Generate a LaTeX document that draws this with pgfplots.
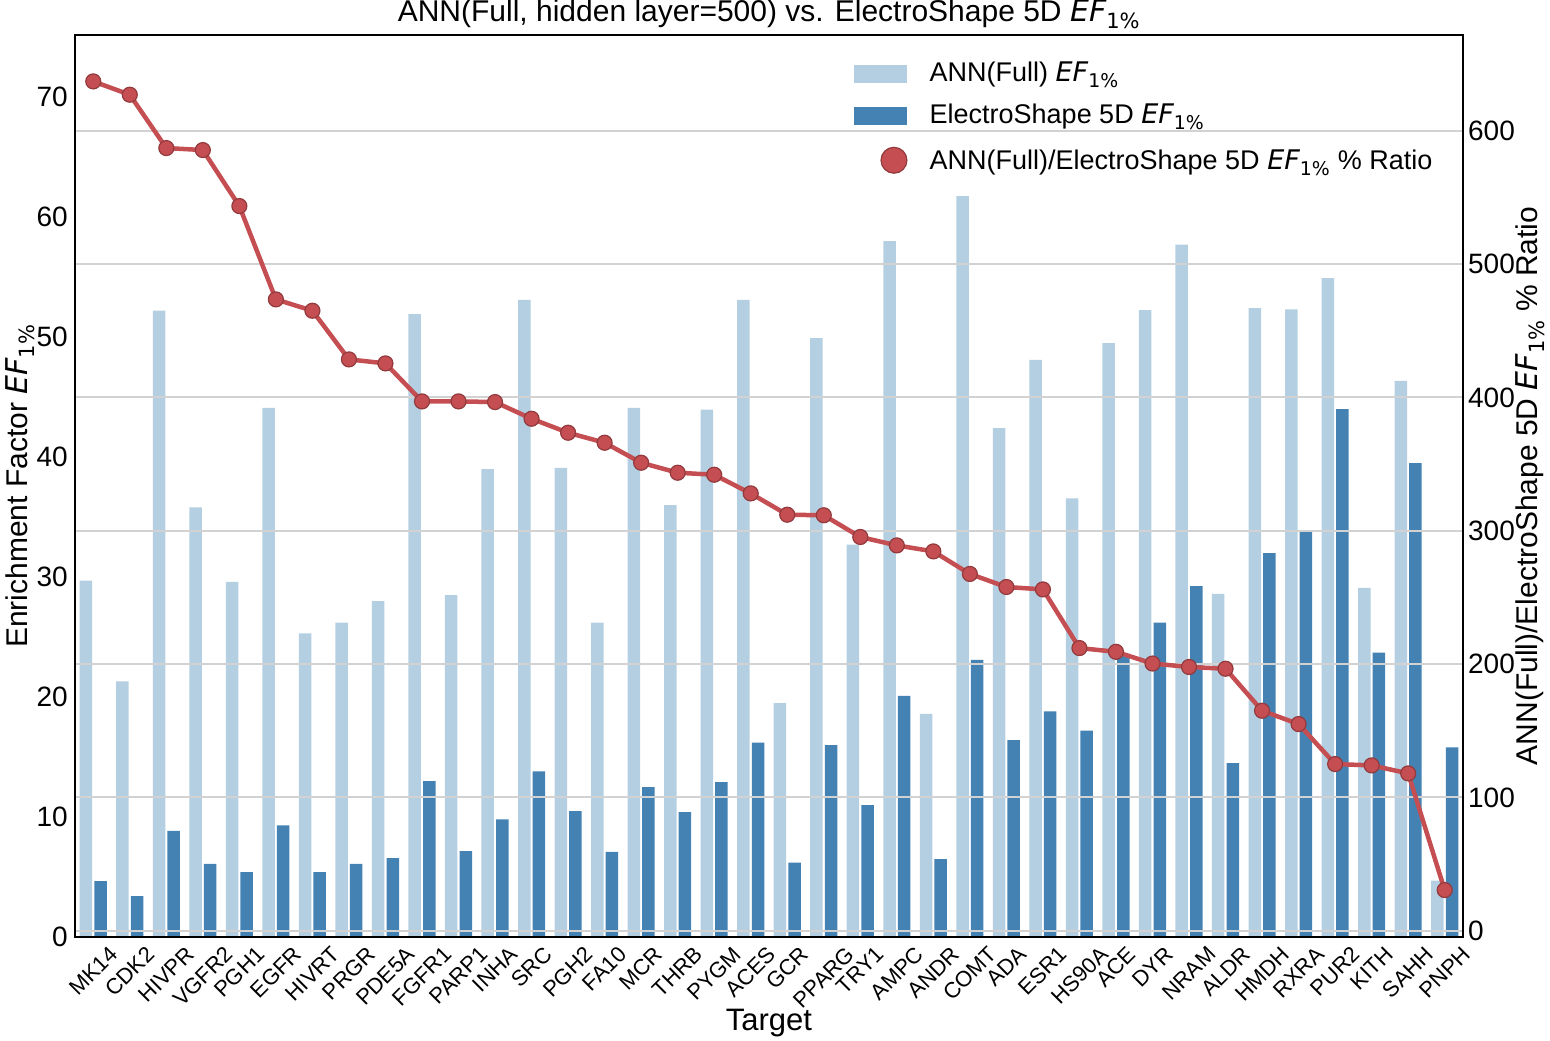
\documentclass[border=0pt]{standalone}
\usepackage{fontspec}
\setmainfont{Liberation Sans}
\newfontfamily\djv{DejaVu Sans}
\usepackage{graphicx}
\usepackage{pgfplots}
\usepackage{pgfplotstable}
\pgfplotsset{compat=1.18}

\definecolor{lightb}{RGB}{179,207,225}
\definecolor{darkb}{RGB}{68,130,180}
\definecolor{redl}{RGB}{196,78,82}
\definecolor{gridc}{RGB}{210,210,210}

\newcommand\EF{{\djv\itshape EF}\textsubscript{\djv 1\%}}
\newcommand\rl[1]{\rotatebox{45}{#1}}

\pgfplotstableread{
x ann es ratio
0 29.7 4.66 637
1 21.3 3.40 627
2 52.2 8.85 587
3 35.8 6.10 585.5
4 29.6 5.40 543.5
5 44.1 9.30 473.5
6 25.3 5.40 465
7 26.2 6.10 428.5
8 28.0 6.58 425.5
9 51.9 13.0 397
10 28.5 7.15 397
11 39.0 9.80 396.5
12 53.1 13.8 384
13 39.1 10.5 373.5
14 26.2 7.10 366
15 44.1 12.5 351
16 36.0 10.4 343.5
17 43.95 12.9 342
18 53.1 16.2 328
19 19.5 6.20 312
20 49.9 16.0 311.6
21 32.7 11.0 295.3
22 58.0 20.1 289
23 18.6 6.50 284.5
24 61.75 23.1 267.6
25 42.4 16.4 257.8
26 48.1 18.8 256
27 36.55 17.2 212
28 49.5 23.6 209.2
29 52.25 26.2 200.4
30 57.7 29.25 197.8
31 28.6 14.5 196.5
32 52.4 32.0 165
33 52.3 33.9 155
34 54.9 44.0 125
35 29.1 23.7 124
36 46.35 39.5 118
37 4.7 15.8 30.5
}\datatable

\begin{document}
\begin{tikzpicture}
\begin{axis}[
  at={(0pt,0pt)}, anchor=south west,
  scale only axis, width=1388pt, height=902pt,
  xmin=-0.5, xmax=37.5, ymin=0, ymax=75.17,
  axis on top,
  axis line style={line width=2.4pt, black},
  major tick length=0pt,
  xtick={0,...,37},
  xticklabels={\rl{MK14},\rl{CDK2},\rl{HIVPR},\rl{VGFR2},\rl{PGH1},\rl{EGFR},\rl{HIVRT},\rl{PRGR},\rl{PDE5A},\rl{FGFR1},\rl{PARP1},\rl{INHA},\rl{SRC},\rl{PGH2},\rl{FA10},\rl{MCR},\rl{THRB},\rl{PYGM},\rl{ACES},\rl{GCR},\rl{PPARG},\rl{TRY1},\rl{AMPC},\rl{ANDR},\rl{COMT},\rl{ADA},\rl{ESR1},\rl{HS90A},\rl{ACE},\rl{DYR},\rl{NRAM},\rl{ALDR},\rl{HMDH},\rl{RXRA},\rl{PUR2},\rl{KITH},\rl{SAHH},\rl{PNPH}},
  xticklabel style={font=\fontsize{22}{26}\selectfont, anchor=north, inner sep=0pt, yshift=-8pt},
  ytick={0,10,...,70},
  yticklabel style={font=\fontsize{28}{32}\selectfont, inner sep=0pt, xshift=-7pt},
  /pgf/number format/assume math mode=true,
  xlabel={Target},
  xlabel style={font=\fontsize{31}{35}\selectfont, at={(axis description cs:0.5,-0.1042)}, anchor=base},
  ylabel={Enrichment Factor \EF},
  ylabel style={font=\fontsize{30}{34}\selectfont, at={(axis description cs:-0.0339,0.5)}, anchor=base, inner sep=0pt},
  title={ANN(Full, hidden layer=500) vs. ElectroShape 5D \EF},
  title style={font=\fontsize{30}{34}\selectfont, at={(axis description cs:0.5,1.0078)}, anchor=base, inner sep=0pt},
]
\addplot[ybar, bar width=12.5pt, bar shift=-7.3pt, fill=lightb, draw=none] table[x=x, y=ann] {\datatable};
\addplot[ybar, bar width=12.5pt, bar shift=7.3pt, fill=darkb, draw=none] table[x=x, y=es] {\datatable};
\end{axis}

\begin{axis}[
  at={(0pt,0pt)}, anchor=south west,
  scale only axis, width=1388pt, height=902pt,
  xmin=-0.5, xmax=37.5, ymin=-4.7, ymax=671.8,
  axis line style={line width=2.4pt, black},
  major tick length=0pt,
  xtick=\empty,
  ytick={0,100,...,600},
  yticklabel pos=right,
  ymajorgrids,
  grid style={gridc, line width=1.8pt},
  yticklabel style={font=\fontsize{28}{32}\selectfont, inner sep=0pt, xshift=5pt},
  /pgf/number format/assume math mode=true,
  ylabel={ANN(Full)/ElectroShape 5D \EF{} \% Ratio},
  ylabel style={font=\fontsize{30}{34}\selectfont, at={(axis description cs:1.054,0.5)}, anchor=base, rotate=0, inner sep=0pt},
  legend cell align=left,
  legend style={draw=none, fill=none, at={(axis description cs:0.5598,0.9695)}, anchor=north west,
    font=\fontsize{27}{31}\selectfont, inner sep=0pt, column sep=21pt, row sep=16pt,
    nodes={inner sep=0pt, text height=19pt, text depth=7pt}},
]
\addlegendimage{legend image code/.code={\fill[lightb] (0pt,-6pt) rectangle (52pt,11pt);}}
\addlegendentry{ANN(Full) \EF}
\addlegendimage{legend image code/.code={\fill[darkb] (0pt,-6pt) rectangle (52pt,11pt);}}
\addlegendentry{ElectroShape 5D \EF}
\addplot[redl, line width=4.5pt, mark=*, mark size=7.5pt,
  mark options={solid, fill=redl, draw=redl!75!black, line width=1.2pt},
  legend image code/.code={\path (0pt,0pt) (52pt,0pt); \node[circle, fill=redl, draw=redl!75!black, line width=1.2pt, minimum size=13pt, inner sep=0pt] at (26pt,3.7pt) {};}]
  table[x=x, y=ratio] {\datatable};
\addlegendentry{ANN(Full)/ElectroShape 5D \EF{} \% Ratio}
\end{axis}
\pgfresetboundingbox
\path[use as bounding box] (-75pt,-104pt) rectangle (1475pt,937pt);
\end{tikzpicture}
\end{document}
